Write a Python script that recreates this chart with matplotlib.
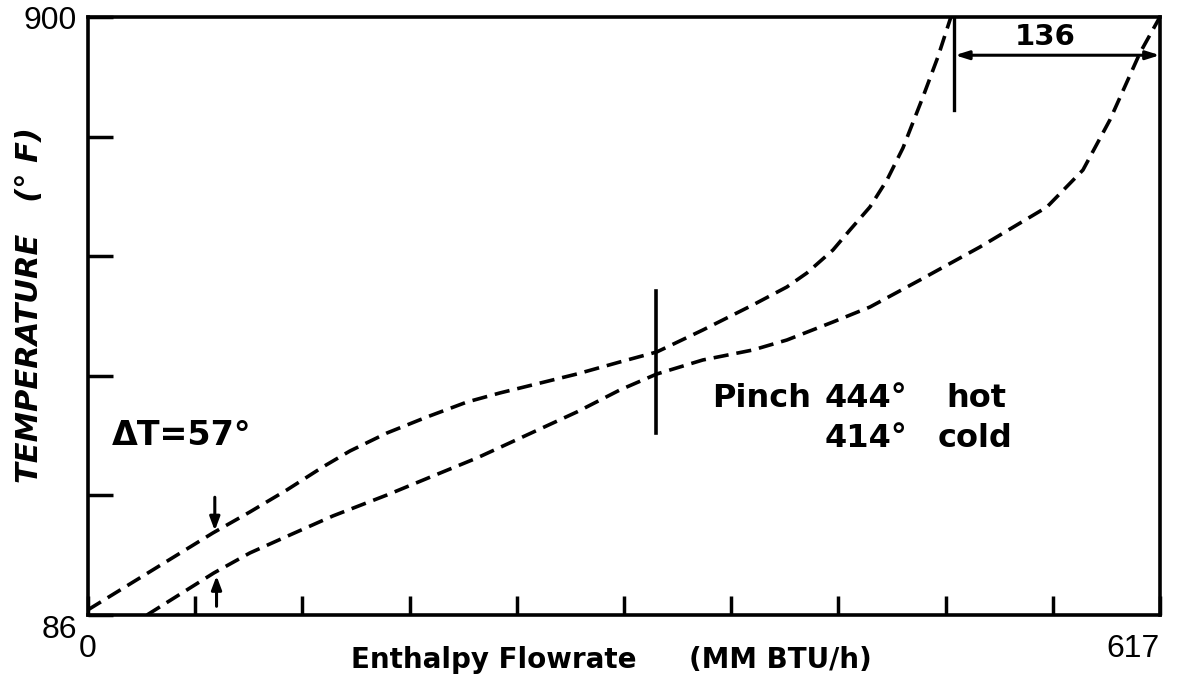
import matplotlib
matplotlib.use("Agg")
import matplotlib.pyplot as plt

# ---------------------------------------------------------------------------
# Data
# ---------------------------------------------------------------------------

HOT_H = [0, 71.9, 93.2, 114.5, 135.2, 150.8, 172.1, 195.1, 218.2, 237.1,
         281.4, 306.2, 327.4, 353.9, 382.7, 402.3, 413.8, 428.8, 438.6,
         450.1, 459.9, 469.1, 480.6, 489.2, 496.7]
HOT_T = [93, 197.6, 226.2, 256.2, 287.5, 309.2, 333.7, 355.5, 375.9, 388.2,
         414.0, 430.4, 444, 473.9, 508.0, 532.5, 551.5, 582.8, 610.1,
         641.4, 678.1, 721.7, 791.1, 845.5, 900]

COLD_H = [34, 72.5, 93.2, 116.3, 141.0, 172.1, 198.6, 223.9, 237.7, 260.2,
          281.4, 306.2, 327.4, 353.9, 382.7, 402.3, 428.8, 450.1, 478.9,
          513.4, 552.0, 572.7, 588.2, 605.5, 617]
COLD_T = [86, 143.2, 170.4, 194.9, 220.8, 249.3, 275.2, 299.7, 314.7, 339.2,
          362.3, 392.3, 414, 433.1, 446.7, 460.3, 484.8, 505.2, 542.0,
          586.9, 641.4, 691.7, 759.8, 851.0, 900]

X_MIN, X_MAX = 0, 617
Y_MIN, Y_MAX = 86, 900
N_XTICKS = 10
N_YTICKS = 5

PINCH_H = 327
PINCH_HOT, PINCH_COLD = 444, 414
DT_MIN = 57
SHIFT = 136

plt.rcParams["font.family"] = ["Liberation Sans", "DejaVu Sans"]
ANN = dict(family="DejaVu Sans", fontweight="bold")

# ---------------------------------------------------------------------------
# Plot
# ---------------------------------------------------------------------------

fig = plt.figure(figsize=(11.97, 6.81), dpi=100)
ax = fig.add_axes([0.0735, 0.097, 0.8955, 0.878])

dash = dict(color="black", linewidth=2.6, linestyle=(0, (4.2, 2.2)))
ax.plot(HOT_H, HOT_T, **dash)
ax.plot(COLD_H, COLD_T, **dash)

ax.set_xlim(X_MIN, X_MAX)
ax.set_ylim(Y_MIN, Y_MAX)

xt = [X_MIN + i * (X_MAX - X_MIN) / N_XTICKS for i in range(N_XTICKS + 1)]
yt = [Y_MIN + i * (Y_MAX - Y_MIN) / N_YTICKS for i in range(N_YTICKS + 1)]
ax.set_xticks(xt)
ax.set_yticks(yt)
ax.set_xticklabels([str(X_MIN)] + [""] * (N_XTICKS - 1) + [str(X_MAX)], fontsize=23)
ax.set_yticklabels([str(Y_MIN)] + [""] * (N_YTICKS - 1) + [str(Y_MAX)], fontsize=23)
ax.get_xticklabels()[-1].set_ha("right")
ax.get_yticklabels()[0].set_va("top")
ax.tick_params(axis="x", direction="in", length=14, width=2.5, pad=14)
ax.tick_params(axis="y", direction="in", length=18, width=2.5, pad=8)
for s in ax.spines.values():
    s.set_linewidth(2.6)

# pinch marker + text
ax.plot([PINCH_H, PINCH_H], [334, 527], color="black", linewidth=2.6)
ax.text(359, 369, "Pinch", fontsize=23, **ANN)
ax.text(424, 369, f"{PINCH_HOT}°", fontsize=23, **ANN)
ax.text(494, 369, "hot", fontsize=23, **ANN)
ax.text(424, 315, f"{PINCH_COLD}°", fontsize=23, **ANN)
ax.text(489, 315, "cold", fontsize=23, **ANN)

# minimum approach arrows
ax.text(14, 317, f"ΔT={DT_MIN}°", fontsize=24, **ANN)
arw = dict(arrowstyle="-|>,head_length=0.8,head_width=0.3", color="black", lw=2.2)
ax.annotate("", xy=(73, 197), xytext=(73, 250), arrowprops=arw)
ax.annotate("", xy=(74, 143), xytext=(74, 94), arrowprops=arw)

# 136 dimension at the top
ax.plot([498.4, 498.4], [773, 900], color="black", linewidth=2.4)
ax.annotate("", xy=(499, 848), xytext=(617, 848),
            arrowprops=dict(arrowstyle="<|-|>,head_length=0.8,head_width=0.25",
                            color="black", lw=2.2, shrinkA=0, shrinkB=0))
ax.text(551, 862, f"{SHIFT}", fontsize=21, ha="center", **ANN)

fig.text(0.293, 0.019, "Enthalpy Flowrate", fontsize=20, **ANN)
fig.text(0.576, 0.019, "(MM BTU/h)", fontsize=20, **ANN)
fig.text(0.025, 0.552, "TEMPERATURE   (° F)", fontsize=22, style="italic",
         rotation=90, ha="center", va="center", **ANN)

fig.savefig("out.png", dpi=100)
